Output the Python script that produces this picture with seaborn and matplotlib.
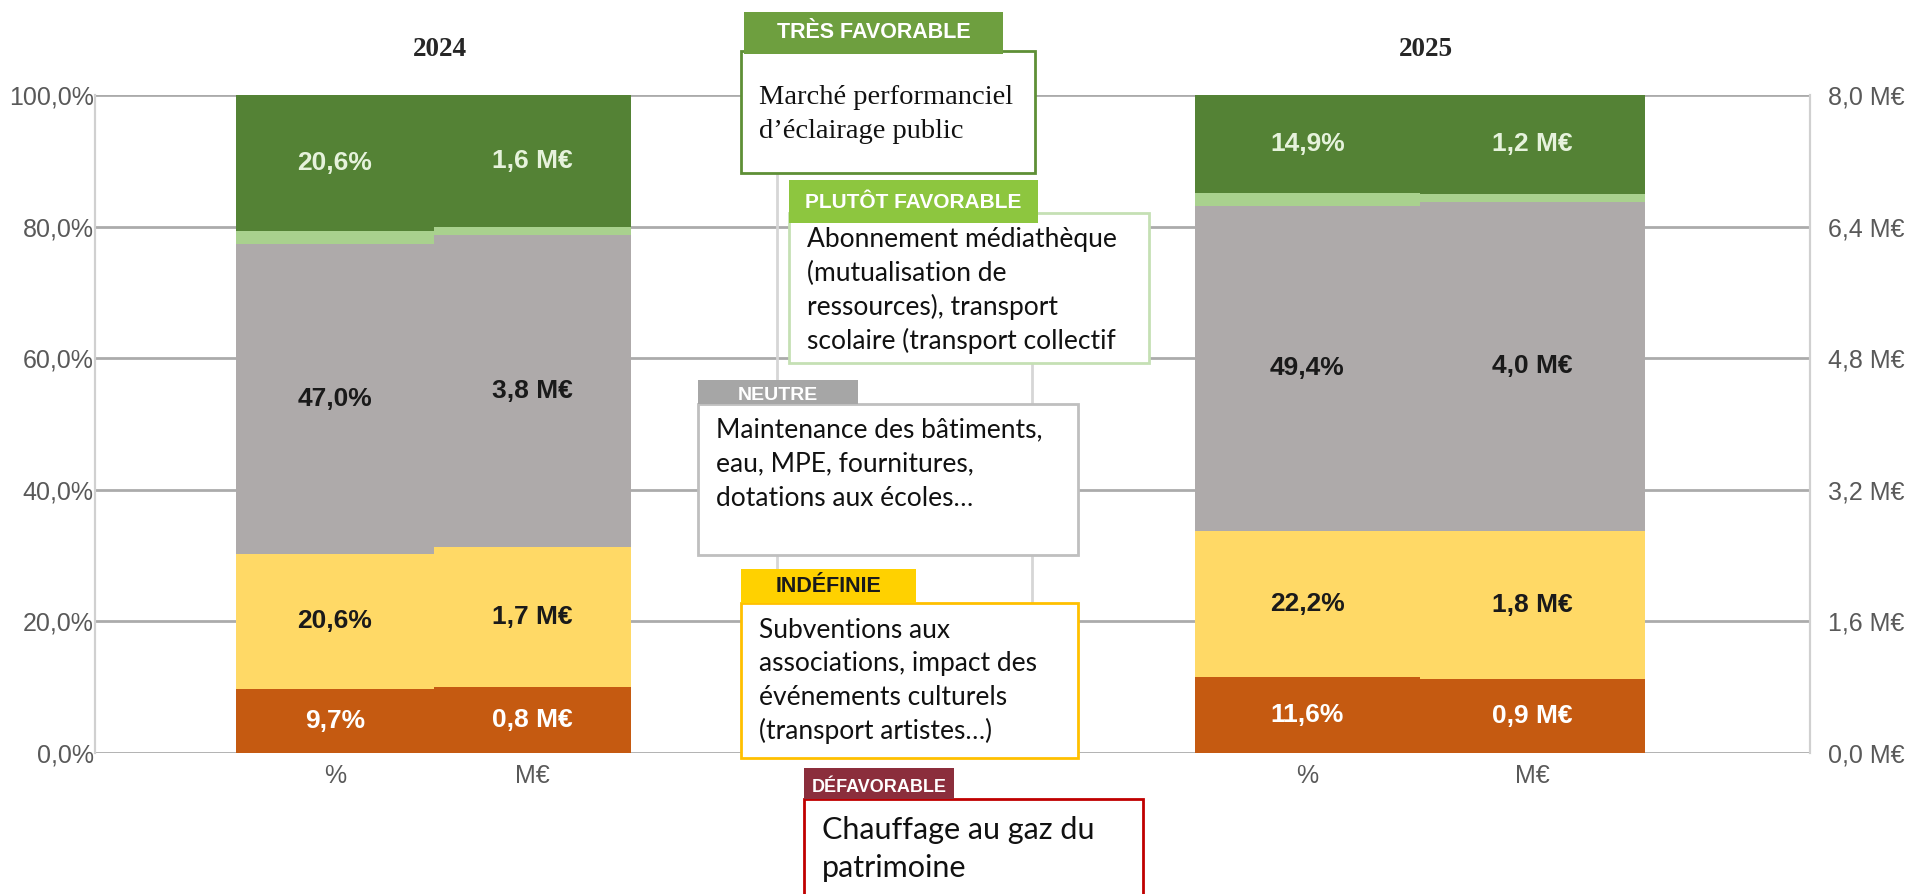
import numpy as np
import matplotlib
matplotlib.use("Agg")
import matplotlib.pyplot as plt
from matplotlib.patches import Rectangle
from matplotlib.lines import Line2D
import seaborn as sns

# ---- data -----------------------------------------------------------------
years = ["2024", "2025"]
columns = ["%", "M€"]
segments = ["Défavorable", "Indéfinie", "Neutre", "Plutôt favorable", "Très favorable"]
share_2024 = [9.7, 20.6, 47.0, 2.1, 20.6]
share_2025 = [11.6, 22.2, 49.4, 1.9, 14.9]
amount_2024 = [0.8, 1.7, 3.8, 0.1, 1.6]
amount_2025 = [0.9, 1.8, 4.0, 0.1, 1.2]
labelled = [True, True, True, False, True]
pct_ticks = [0, 20, 40, 60, 80, 100]
meur_ticks = [0.0, 1.6, 3.2, 4.8, 6.4, 8.0]

categories = [
    ("TRÈS FAVORABLE", ["Marché performanciel", "d’éclairage public"]),
    ("PLUTÔT FAVORABLE", ["Abonnement médiathèque", "(mutualisation de",
                          "ressources), transport", "scolaire (transport collectif"]),
    ("NEUTRE", ["Maintenance des bâtiments,", "eau, MPE, fournitures,",
                "dotations aux écoles…"]),
    ("INDÉFINIE", ["Subventions aux", "associations, impact des",
                   "événements culturels", "(transport artistes…)"]),
    ("DÉFAVORABLE", ["Chauffage au gaz du", "patrimoine"]),
]

# ---- style ----------------------------------------------------------------
sns.set_style("white")
plt.rcParams["font.family"] = ["Liberation Sans", "DejaVu Sans"]
SANS = ["Liberation Sans", "DejaVu Sans"]

seg_colors = ["#C55A11", "#FFD966", "#AEAAAA", "#A9D18E", "#548235"]
seg_text = ["#FFFFFF", "#1A1A1A", "#1A1A1A", None, "#E6F2DC"]
axis_grey = "#595959"
grid_grey = "#ABABAB"

W, H = 1915, 894
fig = plt.figure(figsize=(W / 100, H / 100), dpi=100)


def fx(x):
    return x / W


def fy(y):
    return 1 - y / H


X0, X1, Y0, Y1 = 95, 1810, 95, 753
ax = fig.add_axes([fx(X0), fy(Y1), (X1 - X0) / W, (Y1 - Y0) / H])
ax2 = ax.twinx()

# horizontal layout of each year's block: left edge and width (x units = px)
blocks = {"2024": (236, 395), "2025": (1195, 450)}


def fmt_pct(v):
    return f"{v:.1f}".replace(".", ",") + "%"


def fmt_meur(v):
    return f"{v:.1f}".replace(".", ",") + " M€"


def draw_stack(axis, center, width, values, fmt):
    bottom = 0.0
    for val, color, tcolor, show in zip(values, seg_colors, seg_text, labelled):
        sns.barplot(x=[center], y=[val], native_scale=True, width=width,
                    bottom=bottom, color=color, saturation=1, errorbar=None,
                    linewidth=0, orient="x", ax=axis)
        if show:
            axis.bar_label(axis.containers[-1], labels=[fmt(val)],
                           label_type="center", color=tcolor, fontsize=19,
                           fontweight="bold", family=SANS)
        bottom += val


tick_pos, tick_lab = [], []
for year, shares, amounts in zip(years, [share_2024, share_2025], [amount_2024, amount_2025]):
    left, width = blocks[year]
    colw = width / len(columns)
    c_pct = left + colw / 2
    c_eur = left + 1.5 * colw
    draw_stack(ax, c_pct, colw, shares, fmt_pct)
    draw_stack(ax2, c_eur, colw, amounts, fmt_meur)
    tick_pos += [c_pct, c_eur]
    tick_lab += columns
    fig.text(fx(left + width / 2 + 6), fy(50), year, ha="center", va="center",
             fontsize=19.5, fontweight="bold", color="#262626",
             family=["Liberation Serif", "DejaVu Serif"])

ax.set_xlim(X0, X1)
ax.set_ylim(0, 100)
ax2.set_ylim(0, 8)
ax.set_yticks(pct_ticks)
ax.set_yticklabels([f"{t:.1f}".replace(".", ",") + "%" for t in pct_ticks])
ax2.set_yticks(meur_ticks)
ax2.set_yticklabels([fmt_meur(t) for t in meur_ticks])
ax.set_xticks(tick_pos)
ax.set_xticklabels(tick_lab)
ax.set_xlabel("")
ax.set_ylabel("")
ax2.set_ylabel("")

ax.yaxis.grid(True, color=grid_grey, linewidth=2)
ax.set_axisbelow(True)
ax.tick_params(axis="y", length=0, pad=1, labelsize=18, labelcolor=axis_grey)
ax.tick_params(axis="x", length=0, pad=8, labelsize=18, labelcolor=axis_grey)
ax2.tick_params(axis="y", length=0, pad=13, labelsize=18, labelcolor=axis_grey)
for a in (ax, ax2):
    for s in ("top", "bottom"):
        a.spines[s].set_visible(False)
    a.spines["left"].set_color("#D0D0D0")
    a.spines["right"].set_color("#D0D0D0")
    a.spines["left"].set_linewidth(1.5)
    a.spines["right"].set_linewidth(1.5)
ax.set_xlim(X0, X1)

# faint frame lines of the central panel
for x, ya, yb in [(777, 173, 700), (1032, 330, 603)]:
    fig.add_artist(Line2D([fx(x), fx(x)], [fy(ya), fy(yb)], color="#D6D6D6",
                          linewidth=2, transform=fig.transFigure, zorder=2))

# ---- category boxes -----------------------------------------------------
boxes = [
    dict(head=(744, 12, 1003, 54), hc="#6E9F3F", htc="#FFFFFF", hs=15.5, hy=33,
         box=(741, 51, 1035, 173), bc="#5E8F36", tx=759, ty=97, step=34,
         fam=["Liberation Serif", "DejaVu Serif"], fs=20.5),
    dict(head=(789, 180, 1038, 223), hc="#8DC63F", htc="#FFFFFF", hs=15, hy=202,
         box=(789, 213, 1149, 363), bc="#C5E0B4", tx=807, ty=240, step=33.5,
         fam=["Lato", "DejaVu Sans"], fs=19),
    dict(head=(698, 380, 858, 404), hc="#A6A6A6", htc="#FFFFFF", hs=14, hy=396,
         box=(698, 404, 1078, 555), bc="#BFBFBF", tx=716, ty=430, step=34,
         fam=["Lato", "DejaVu Sans"], fs=19),
    dict(head=(741, 569, 916, 603), hc="#FFD100", htc="#1A1A1A", hs=15.5, hy=586,
         box=(741, 603, 1078, 758), bc="#FFC000", tx=759, ty=630, step=33.7,
         fam=["Lato", "DejaVu Sans"], fs=19),
    dict(head=(804, 768, 954, 799), hc="#8B2E3C", htc="#FFFFFF", hs=13, hy=787,
         box=(804, 799, 1143, 905), bc="#C00000", tx=822, ty=830, step=38,
         fam=["Lato", "DejaVu Sans"], fs=22),
]

for (title, lines), b in zip(categories, boxes):
    x0, y0, x1, y1 = b["box"]
    fig.add_artist(Rectangle((fx(x0), fy(y1)), (x1 - x0) / W, (y1 - y0) / H,
                             facecolor="white", edgecolor=b["bc"], linewidth=2,
                             transform=fig.transFigure, zorder=5))
    hx0, hy0, hx1, hy1 = b["head"]
    fig.add_artist(Rectangle((fx(hx0), fy(hy1)), (hx1 - hx0) / W, (hy1 - hy0) / H,
                             facecolor=b["hc"], edgecolor="none",
                             transform=fig.transFigure, zorder=6))
    fig.text(fx((hx0 + hx1) / 2), fy(b["hy"]), title, ha="center", va="center",
             fontsize=b["hs"], fontweight="bold", color=b["htc"],
             family=SANS, zorder=7)
    for i, line in enumerate(lines):
        fig.text(fx(b["tx"]), fy(b["ty"] + i * b["step"]), line, ha="left",
                 va="center", fontsize=b["fs"], color="#111111",
                 family=b["fam"], zorder=7)

fig.savefig("out.png", dpi=100, facecolor="white")
